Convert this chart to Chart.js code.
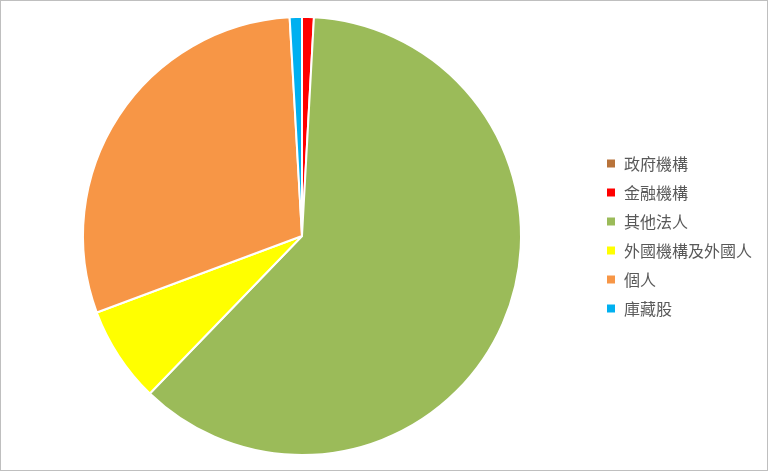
<!DOCTYPE html>
<html>
<head>
<meta charset="utf-8">
<script src="https://cdn.jsdelivr.net/npm/chart.js@4/dist/chart.umd.min.js"></script>
<style>
html,body{margin:0;padding:0;background:#fff;}
#wrap{position:relative;width:768px;height:471px;box-sizing:border-box;border:1px solid #bfbfbf;}
canvas{display:block;}
</style>
</head>
<body>
<div id="wrap"><canvas id="c" width="766" height="469"></canvas></div>
<script>
const categories = ["政府機構","金融機構","其他法人","外國機構及外國人","個人","庫藏股"];
const shares = [0, 0.87, 61.4, 7.1, 29.8, 0.9];
const colors = ["#B8733A","#FF0000","#9BBB59","#FFFF00","#F79646","#00B0F0"];

new Chart(document.getElementById('c'), {
  type: 'pie',
  data: {
    labels: categories,
    datasets: [{
      data: shares,
      backgroundColor: colors,
      borderColor: '#ffffff',
      borderWidth: 2
    }]
  },
  options: {
    responsive: false,
    animation: false,
    layout: { padding: { left: 10, right: 5, top: 15, bottom: 14 } },
    plugins: {
      tooltip: { enabled: false },
      legend: {
        position: 'right',
        labels: {
          boxWidth: 10,
          boxHeight: 10,
          padding: 13,
          color: '#595959',
          font: { family: "'Noto Sans CJK TC', 'Noto Sans', sans-serif", size: 16 }
        }
      }
    }
  }
});
</script>
</body>
</html>
